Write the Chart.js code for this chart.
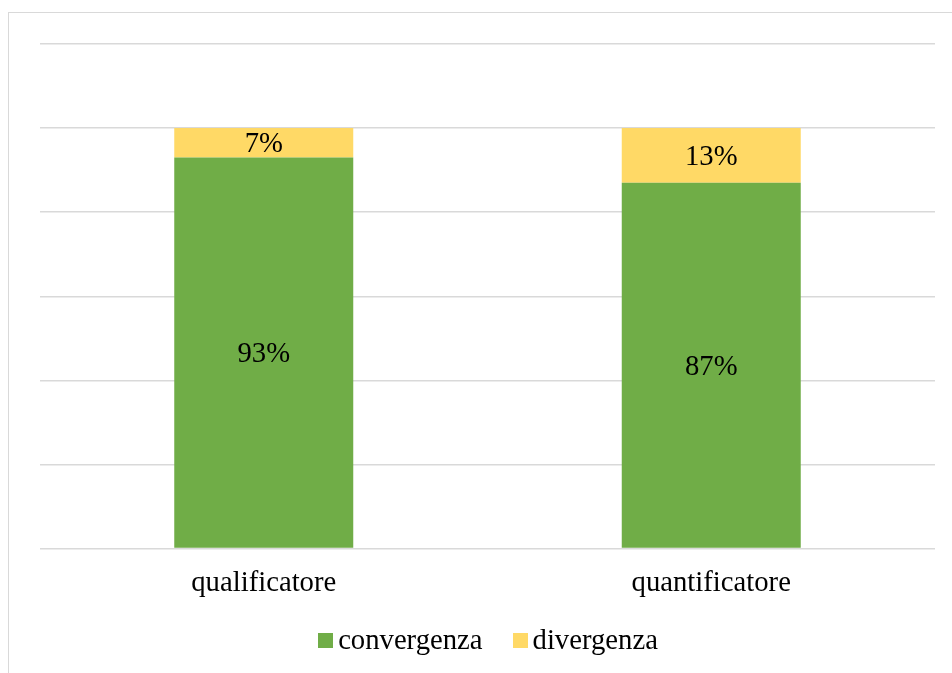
<!DOCTYPE html>
<html>
<head>
<meta charset="utf-8">
<script src="https://cdn.jsdelivr.net/npm/chart.js@4/dist/chart.umd.min.js"></script>
<style>
  html, body { margin: 0; padding: 0; background: #fff; overflow: hidden; }
  #wrap { position: relative; width: 952px; height: 673px; }
  #frame { position: absolute; left: 8px; top: 12px; width: 1000px; height: 700px; border: 1.5px solid #d9d9d9; box-sizing: border-box; pointer-events: none; }
  #chartBox { position: absolute; left: 0; top: 0; width: 952px; height: 673px; }
  #legend { position: absolute; left: 12px; top: 622px; width: 952px; display: flex; justify-content: center; align-items: center; font-family: "Liberation Serif", "Times New Roman", serif; font-size: 28.7px; color: #000; line-height: 34px; }
  .item { display: flex; align-items: center; margin: 0 15px; }
  .sw { width: 15px; height: 15px; margin-right: 5px; margin-top: 3px; }
</style>
</head>
<body>
<div id="wrap">
  <div id="chartBox"><canvas id="c" width="952" height="673"></canvas></div>
  <div id="frame"></div>
  <div id="legend"></div>
</div>
<script>
const categories = ["qualificatore", "quantificatore"];
const convergenza = [93, 87];
const divergenza = [7, 13];
const seriesNames = ["convergenza", "divergenza"];
const seriesColors = ["#70AD47", "#FFD966"];
const yTicks = [0, 20, 40, 60, 80, 100, 120];

const FONT = '"Liberation Serif", "Times New Roman", serif';

const barLabels = {
  id: 'barLabels',
  afterDatasetsDraw(chart) {
    const ctx = chart.ctx;
    ctx.save();
    ctx.font = '28.7px ' + FONT;
    ctx.fillStyle = '#000';
    ctx.textAlign = 'center';
    ctx.textBaseline = 'middle';
    chart.data.datasets.forEach((ds, i) => {
      const meta = chart.getDatasetMeta(i);
      meta.data.forEach((bar, j) => {
        const p = bar.getProps(['x', 'y', 'base'], true);
        ctx.fillText(ds.data[j] + '%', p.x, (p.y + p.base) / 2 + 2);
      });
    });
    ctx.restore();
  }
};

const chart = new Chart(document.getElementById('c'), {
  type: 'bar',
  data: {
    labels: categories,
    datasets: [
      { label: seriesNames[0], data: convergenza, backgroundColor: seriesColors[0] },
      { label: seriesNames[1], data: divergenza, backgroundColor: seriesColors[1] }
    ]
  },
  options: {
    responsive: false,
    animation: false,
    devicePixelRatio: 1,
    layout: { padding: { left: 40, right: 17, top: 44, bottom: 54 } },
    datasets: { bar: { barPercentage: 0.4, categoryPercentage: 1.0, borderWidth: 0 } },
    plugins: { legend: { display: false }, tooltip: { enabled: false } },
    scales: {
      x: {
        stacked: true,
        grid: { display: false, drawTicks: false },
        border: { display: false },
        ticks: { color: '#000', font: { family: FONT, size: 28.7 }, padding: 18 }
      },
      y: {
        stacked: true,
        min: 0, max: 120,
        afterBuildTicks(scale) { scale.ticks = yTicks.map(v => ({ value: v })); },
        grid: { color: '#d9d9d9', lineWidth: 1.5, drawTicks: false },
        border: { display: false },
        ticks: { display: false }
      }
    }
  },
  plugins: [barLabels]
});

const lg = document.getElementById('legend');
chart.data.datasets.forEach(ds => {
  const it = document.createElement('div');
  it.className = 'item';
  const sw = document.createElement('span');
  sw.className = 'sw';
  sw.style.background = ds.backgroundColor;
  const tx = document.createElement('span');
  tx.textContent = ds.label;
  it.appendChild(sw); it.appendChild(tx);
  lg.appendChild(it);
});
</script>
</body>
</html>
